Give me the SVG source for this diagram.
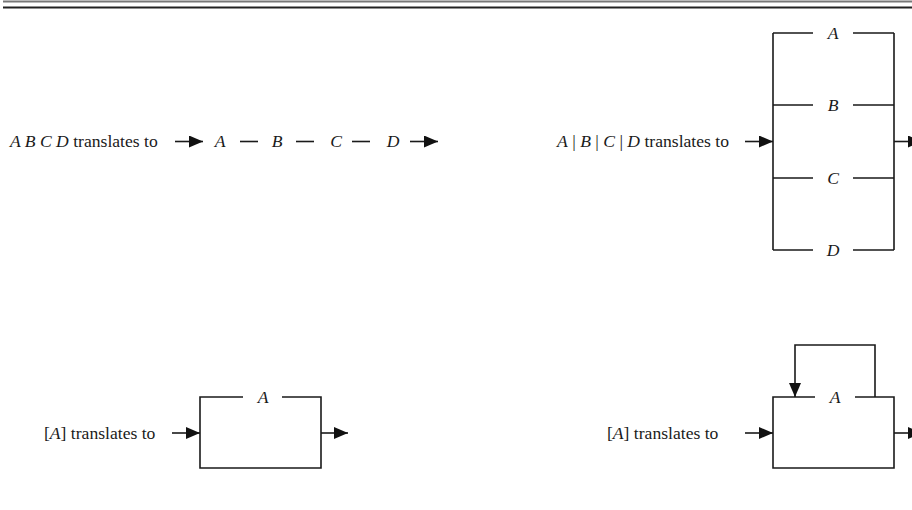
<svg xmlns="http://www.w3.org/2000/svg" width="912" height="510" viewBox="0 0 912 510">
<style>
.t{font-family:"Liberation Serif","Times New Roman",serif;font-size:17.6px;fill:#1a1a1a}
.i{font-style:italic}
.ln{stroke:#1a1a1a;stroke-width:1.6;fill:none}
.ar{stroke:#1a1a1a;stroke-width:1.6;fill:none;marker-end:url(#ah)}
</style>
<defs>
<marker id="ah" markerUnits="userSpaceOnUse" markerWidth="15" markerHeight="13" refX="14" refY="6" orient="auto">
<path d="M0,0 L14,6 L0,12 z" fill="#111"/>
</marker>
</defs>
<rect width="912" height="510" fill="#fff"/>
<g id="rule">
<line x1="3" y1="1.5" x2="912" y2="1.5" stroke="#777" stroke-width="2"/>
<line x1="3" y1="7.5" x2="912" y2="7.5" stroke="#222" stroke-width="2"/>
</g>
<g id="seq">
<text class="t" x="10" y="147"><tspan class="i">A B C D</tspan> translates to</text>
<text class="t i" x="220" y="147" text-anchor="middle">A</text>
<text class="t i" x="277" y="147" text-anchor="middle">B</text>
<text class="t i" x="336" y="147" text-anchor="middle">C</text>
<text class="t i" x="393" y="147" text-anchor="middle">D</text>
</g>
<g id="alt">
<text class="t" x="729" y="147" text-anchor="end"><tspan class="i">A</tspan> | <tspan class="i">B</tspan> | <tspan class="i">C</tspan> | <tspan class="i">D</tspan> translates to</text>
<path class="ln" d="M773,33 V250 M894,33 V250"/>
<path class="ln" d="M773,33 H813 M853,33 H894 M773,105 H813 M853,105 H894 M773,178 H813 M853,178 H894 M773,250 H813 M853,250 H894"/>
<text class="t i" x="833" y="39" text-anchor="middle">A</text>
<text class="t i" x="833" y="111" text-anchor="middle">B</text>
<text class="t i" x="833" y="184" text-anchor="middle">C</text>
<text class="t i" x="833" y="256" text-anchor="middle">D</text>
</g>
<g id="opt">
<text class="t" x="44" y="439">[<tspan class="i">A</tspan>] translates to</text>
<path class="ln" d="M243,397 H200 V468 H321 V397 H282"/>
<text class="t i" x="263" y="403" text-anchor="middle">A</text>
</g>
<g id="rep">
<text class="t" x="607" y="439">[<tspan class="i">A</tspan>] translates to</text>
<path class="ln" d="M815,397 H773 V468 H894 V397 H855"/>
<text class="t i" x="835" y="403" text-anchor="middle">A</text>
</g>
<g id="connectors">
<line class="ar" x1="175" y1="141.5" x2="203" y2="141.5"/>
<line class="ln" x1="240" y1="141.5" x2="258" y2="141.5"/>
<line class="ln" x1="296" y1="141.5" x2="314" y2="141.5"/>
<line class="ln" x1="352" y1="141.5" x2="370" y2="141.5"/>
<line class="ar" x1="410" y1="141.5" x2="438" y2="141.5"/>
<line class="ar" x1="745" y1="141.5" x2="773" y2="141.5"/>
<line class="ar" x1="894" y1="141.5" x2="922" y2="141.5"/>
<line class="ar" x1="172" y1="433" x2="200" y2="433"/>
<line class="ar" x1="321" y1="433" x2="348" y2="433"/>
<line class="ar" x1="745" y1="433" x2="773" y2="433"/>
<line class="ar" x1="894" y1="433" x2="922" y2="433"/>
<path class="ar" d="M875,397 V345 H795 V397"/>
</g>
</svg>
